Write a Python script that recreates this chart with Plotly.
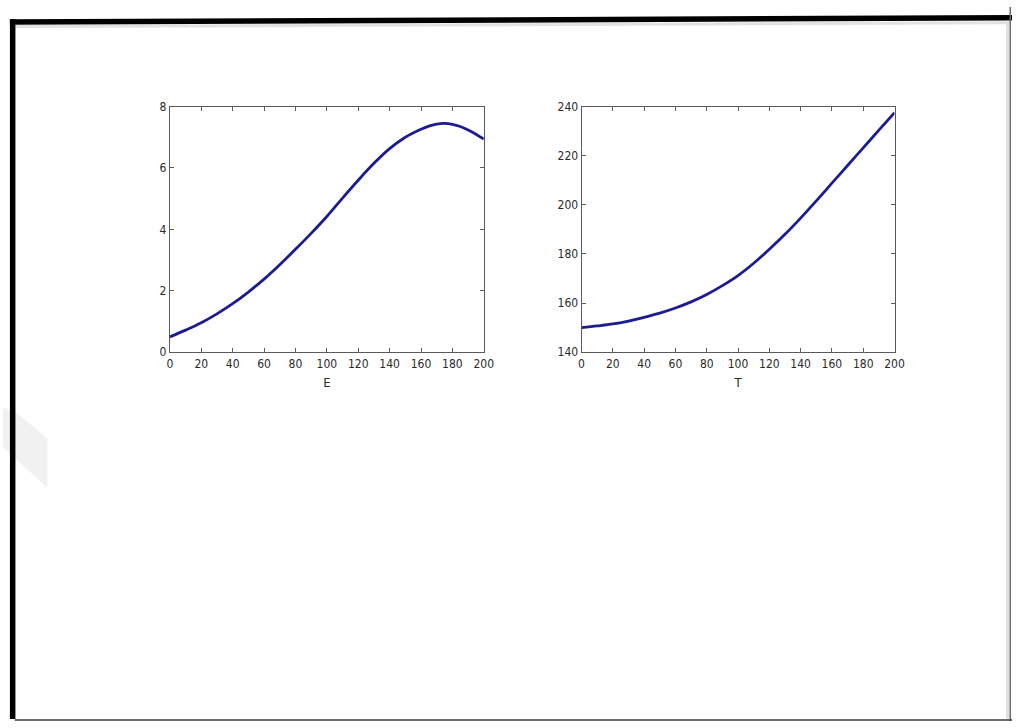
import plotly.graph_objects as go

# ---- data ----
e_x = [0, 10, 20, 30, 40, 50, 60, 70, 80, 90, 100, 110, 120, 130, 140, 150, 160, 165, 170, 175, 180, 185, 190, 195, 200]
e_y = [0.50, 0.72, 0.96, 1.25, 1.58, 1.96, 2.38, 2.85, 3.35, 3.87, 4.42, 5.02, 5.60, 6.15, 6.63, 7.00, 7.26, 7.36, 7.43, 7.45, 7.42, 7.35, 7.24, 7.10, 6.94]

t_x = [0, 10, 20, 30, 40, 50, 60, 70, 80, 90, 100, 110, 120, 130, 140, 150, 160, 170, 180, 190, 200]
t_y = [150.0, 150.7, 151.5, 152.7, 154.2, 155.9, 158.0, 160.5, 163.5, 167.1, 171.2, 176.2, 181.9, 188.0, 194.6, 201.6, 208.8, 216.0, 223.2, 230.4, 237.5]

x_ticks = [0, 20, 40, 60, 80, 100, 120, 140, 160, 180, 200]
e_ticks = [0, 2, 4, 6, 8]
t_ticks = [140, 160, 180, 200, 220, 240]
x_titles = ["E", "T"]

W, H = 1022, 728
def px(x):
    return x / W
def py(y):
    return 1 - y / H

FONT = "Liberation Sans Narrow, Arial Narrow, DejaVu Sans Condensed, Liberation Sans, sans-serif"
LINE = "#1c1c92"
TXT = "#2a2a2a"

fig = go.Figure()
fig.add_trace(go.Scatter(x=e_x, y=e_y, mode="lines", line=dict(color=LINE, width=2.8, shape="spline"),
                         xaxis="x", yaxis="y", showlegend=False))
fig.add_trace(go.Scatter(x=t_x, y=t_y, mode="lines", line=dict(color=LINE, width=2.8, shape="spline"),
                         xaxis="x2", yaxis="y2", showlegend=False))

ax_common = dict(showgrid=False, zeroline=False, showline=True, linecolor="#5a5a5a", linewidth=1,
                 mirror="ticks", ticks="inside", ticklen=4, tickcolor="#5a5a5a",
                 tickfont=dict(family=FONT, size=12, color=TXT))

fig.update_layout(
    width=W, height=H, margin=dict(l=0, r=0, t=0, b=0),
    paper_bgcolor="white", plot_bgcolor="white",
    xaxis=dict(domain=[px(169), px(487)], range=[0, 200], tickvals=x_ticks, anchor="y",
               title=dict(text=x_titles[0], font=dict(family=FONT, size=13, color=TXT), standoff=8), **ax_common),
    yaxis=dict(domain=[py(352), py(101.5)], range=[0, 8], tickvals=e_ticks, anchor="x", **ax_common),
    xaxis2=dict(domain=[px(586), px(903)], range=[0, 200], tickvals=x_ticks, anchor="y2",
                title=dict(text=x_titles[1], font=dict(family=FONT, size=13, color=TXT), standoff=8), **ax_common),
    yaxis2=dict(domain=[py(352), py(101.5)], range=[140, 240], tickvals=t_ticks, anchor="x2", **ax_common),
)

shapes = []
# faint watermark chevron at left
shapes.append(dict(type="path", xref="paper", yref="paper",
                   path=f"M {px(0)} {py(408)} L {px(14)} {py(414)} L {px(45)} {py(440)} L {px(45)} {py(490)} L {px(14)} {py(462)} L {px(0)} {py(448)} Z",
                   fillcolor="#f1f1f1", line=dict(width=0), layer="below"))
# shadow below top border
shapes.append(dict(type="line", xref="paper", yref="paper", x0=px(13), y0=py(20), x1=px(1018), y1=py(16),
                   line=dict(color="#e2e2e2", width=3)))
# top thick border
shapes.append(dict(type="line", xref="paper", yref="paper", x0=px(7), y0=py(15.3), x1=px(1022), y1=py(11),
                   line=dict(color="black", width=5.5)))
# left thick border
shapes.append(dict(type="line", xref="paper", yref="paper", x0=px(9.8), y0=py(12.5), x1=px(9.8), y1=py(726),
                   line=dict(color="black", width=5.5)))
# right thin border with shadow
shapes.append(dict(type="line", xref="paper", yref="paper", x0=px(1017.5), y0=py(14), x1=px(1017.5), y1=py(726),
                   line=dict(color="#e0e0e0", width=3)))
shapes.append(dict(type="line", xref="paper", yref="paper", x0=px(1020.2), y0=py(0), x1=px(1020.2), y1=py(728),
                   line=dict(color="#6a6a6a", width=1.5)))
# bottom line
shapes.append(dict(type="line", xref="paper", yref="paper", x0=px(12), y0=py(727), x1=px(1022), y1=py(727),
                   line=dict(color="#3a3a3a", width=1.5)))
fig.update_layout(shapes=shapes)

fig.write_html("out.html")
